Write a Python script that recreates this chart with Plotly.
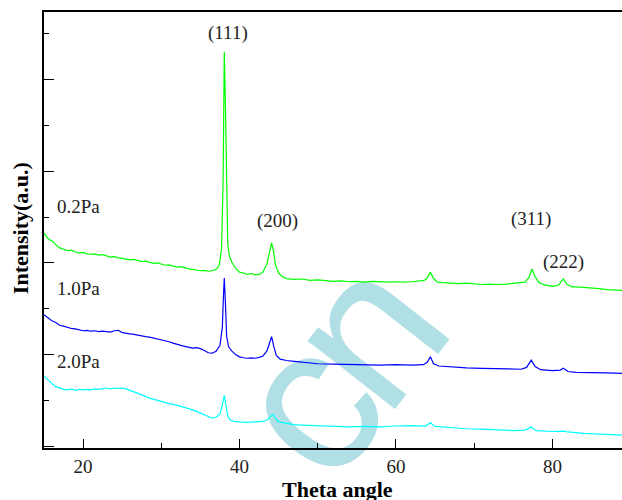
import base64
import plotly.graph_objects as go

# ---------------- data ----------------
x_02 = [15.0, 15.4, 15.8, 16.2, 16.6, 17.0, 17.5, 18.0, 18.5, 19.0, 19.5, 20.0, 20.5, 21.0, 21.5,
        22.0, 22.5, 23.0, 23.5, 24.0, 24.5, 25.0, 25.5, 26.0, 26.5, 27.0, 27.5, 28.0, 28.5, 29.0,
        29.5, 30.0, 30.5, 31.0, 31.5, 32.0, 32.5, 33.0, 33.5, 34.0, 34.5, 35.0, 35.5, 36.0, 36.5,
        37.0, 37.4, 37.7, 37.9, 38.05, 38.2, 38.35, 38.5, 38.7, 39.0, 39.5, 40.0, 40.5, 41.0, 41.5,
        42.0, 42.5, 43.0, 43.5, 43.9, 44.1, 44.35, 44.6, 45.0, 45.5, 46.0, 47.0, 48.0, 49.0, 50.0,
        51.0, 52.0, 53.0, 54.0, 55.0, 56.0, 57.0, 58.0, 59.0, 60.0, 61.0, 62.0, 63.0, 63.6, 64.0,
        64.4, 64.8, 65.3, 66.0, 67.0, 68.0, 69.0, 70.0, 71.0, 72.0, 73.0, 74.0, 75.0, 75.9, 76.5,
        77.0, 77.4, 77.8, 78.3, 79.0, 80.1, 80.8, 81.4, 81.9, 82.5, 83.1, 84.0, 85.0, 86.0, 87.0,
        88.0, 88.9]
y_02 = [4.66, 4.55, 4.50, 4.46, 4.38, 4.33, 4.30, 4.27, 4.28, 4.24, 4.22, 4.23, 4.20, 4.19, 4.20,
        4.17, 4.18, 4.15, 4.13, 4.14, 4.11, 4.10, 4.09, 4.07, 4.08, 4.05, 4.03, 4.04, 4.01, 3.99,
        4.00, 3.97, 3.95, 3.96, 3.93, 3.91, 3.92, 3.89, 3.87, 3.86, 3.84, 3.83, 3.84, 3.82, 3.83,
        3.86, 3.95, 4.30, 5.80, 8.61, 7.40, 5.20, 4.40, 4.15, 4.02, 3.88, 3.80, 3.78, 3.75, 3.77,
        3.74, 3.75, 3.80, 3.98, 4.30, 4.44, 4.25, 3.95, 3.78, 3.70, 3.66, 3.64, 3.65, 3.62, 3.63,
        3.61, 3.60, 3.61, 3.59, 3.60, 3.58, 3.60, 3.59, 3.58, 3.59, 3.58, 3.59, 3.60, 3.62, 3.67,
        3.80, 3.66, 3.58, 3.57, 3.56, 3.55, 3.56, 3.54, 3.53, 3.54, 3.53, 3.54, 3.55, 3.56, 3.58,
        3.68, 3.87, 3.70, 3.57, 3.52, 3.49, 3.52, 3.65, 3.53, 3.48, 3.48, 3.47, 3.45, 3.44, 3.42,
        3.41, 3.40]

x_10 = [15.0, 15.5, 16.0, 16.5, 17.0, 17.5, 18.0, 18.5, 19.0, 19.5, 20.0, 20.5, 21.0, 21.5, 22.0,
        22.5, 23.0, 23.5, 24.0, 24.5, 25.0, 25.5, 26.0, 26.5, 27.0, 27.5, 28.0, 28.5, 29.0, 29.5,
        30.0, 30.5, 31.0, 31.5, 32.0, 32.5, 33.0, 33.5, 34.0, 34.5, 35.0, 35.5, 36.0, 36.5, 37.0,
        37.5, 37.8, 37.95, 38.05, 38.2, 38.35, 38.6, 39.0, 39.5, 40.0, 40.5, 41.0, 41.5, 42.0, 42.5,
        43.0, 43.5, 43.9, 44.1, 44.35, 44.7, 45.2, 46.0, 47.0, 48.0, 50.0, 52.0, 54.0, 56.0, 58.0,
        60.0, 62.0, 63.5, 64.0, 64.4, 64.8, 65.5, 67.0, 69.0, 71.0, 73.0, 75.0, 76.0, 76.7, 77.3,
        77.8, 78.5, 80.0, 81.0, 81.4, 82.0, 83.0, 85.0, 87.0, 88.9]
y_10 = [2.87, 2.80, 2.74, 2.70, 2.64, 2.62, 2.59, 2.57, 2.56, 2.54, 2.52, 2.53, 2.51, 2.52, 2.50,
        2.51, 2.50, 2.49, 2.52, 2.53, 2.48, 2.46, 2.45, 2.44, 2.42, 2.41, 2.39, 2.38, 2.36, 2.34,
        2.33, 2.30, 2.28, 2.25, 2.22, 2.20, 2.18, 2.16, 2.14, 2.15, 2.13, 2.09, 2.04, 2.03, 2.07,
        2.20, 2.60, 3.30, 3.67, 3.10, 2.40, 2.17, 2.08, 2.00, 1.95, 1.93, 1.92, 1.93, 1.92, 1.94,
        1.97, 2.08, 2.32, 2.39, 2.20, 1.98, 1.90, 1.87, 1.85, 1.83, 1.80, 1.79, 1.78, 1.78, 1.77,
        1.78, 1.77, 1.78, 1.83, 1.95, 1.80, 1.75, 1.73, 1.71, 1.70, 1.69, 1.67, 1.68, 1.72, 1.88,
        1.74, 1.67, 1.65, 1.66, 1.70, 1.63, 1.61, 1.61, 1.60, 1.59]

x_20 = [15.0, 15.5, 16.0, 16.5, 17.0, 17.5, 18.0, 18.5, 19.0, 19.5, 20.0, 20.5, 21.0, 21.5, 22.0,
        22.5, 23.0, 23.5, 24.0, 24.5, 25.0, 25.5, 26.0, 26.5, 27.5, 28.5, 29.5, 30.0, 31.0, 32.0,
        32.5, 33.5, 34.5, 35.0, 35.5, 36.0, 36.5, 37.0, 37.5, 37.8, 38.05, 38.25, 38.5, 38.8, 39.3,
        40.0, 41.0, 42.0, 43.0, 43.6, 44.0, 44.3, 44.6, 45.0, 46.0, 47.0, 48.0, 50.0, 52.0, 54.0,
        56.0, 58.0, 60.0, 62.0, 63.8, 64.4, 65.0, 67.0, 69.0, 71.0, 73.0, 75.0, 76.5, 77.3, 77.9,
        79.0, 80.0, 81.4, 82.0, 84.0, 86.0, 88.9]
y_20 = [1.53, 1.44, 1.37, 1.30, 1.27, 1.24, 1.23, 1.25, 1.22, 1.24, 1.23, 1.24, 1.23, 1.25, 1.24,
        1.25, 1.27, 1.25, 1.27, 1.26, 1.27, 1.25, 1.22, 1.19, 1.12, 1.05, 1.00, 0.97, 0.93, 0.89,
        0.87, 0.82, 0.76, 0.72, 0.68, 0.64, 0.61, 0.63, 0.70, 0.90, 1.11, 0.90, 0.65, 0.57, 0.54,
        0.53, 0.52, 0.53, 0.54, 0.58, 0.66, 0.69, 0.60, 0.53, 0.50, 0.47, 0.46, 0.45, 0.43, 0.42,
        0.43, 0.42, 0.44, 0.45, 0.44, 0.51, 0.43, 0.40, 0.38, 0.37, 0.35, 0.34, 0.35, 0.42, 0.34,
        0.33, 0.32, 0.33, 0.31, 0.28, 0.27, 0.24]

series_names = ["0.2Pa", "1.0Pa", "2.0Pa"]
series_colors = ["#00ff00", "#0000ff", "#00ffff"]

peak_labels = ["(111)", "(200)", "(311)", "(222)"]
peak_label_x = [38.55, 44.8, 77.3, 81.4]
peak_label_y = [9.02, 4.91, 4.97, 4.02]

name_label_x = [16.45, 16.45, 16.45]
name_label_y = [5.23, 3.45, 1.85]

x_ticks = [20, 40, 60, 80]

# ---------------- figure ----------------
W, H = 622, 500
ml, mt, mb, mr = 43.6, 12, 51.5, 0
pw, ph = W - ml - mr, H - mt - mb
serif = "Liberation Serif"

fig = go.Figure()
for xs, ys, nm, col in zip([x_02, x_10, x_20], [y_02, y_10, y_20], series_names, series_colors):
    fig.add_trace(go.Scatter(x=xs, y=ys, mode="lines", name=nm,
                             line=dict(color=col, width=1.2), showlegend=False))

for t, xv, yv in zip(peak_labels, peak_label_x, peak_label_y):
    fig.add_annotation(x=xv, y=yv, xref="x", yref="y", text=t, showarrow=False,
                       xanchor="center", yanchor="middle",
                       font=dict(family=serif, size=19, color="#222"))
for t, xv, yv in zip(series_names, name_label_x, name_label_y):
    fig.add_annotation(x=xv, y=yv, xref="x", yref="y", text=t, showarrow=False,
                       xanchor="left", yanchor="middle", font=dict(family=serif, size=19, color="#222"))

# axis titles
fig.add_annotation(x=(20 - ml) / pw, y=(mt + ph - 228) / ph, xref="paper", yref="paper",
                   text="<b>Intensity(a.u.)</b>", textangle=-90, showarrow=False,
                   xanchor="center", yanchor="middle",
                   font=dict(family=serif, size=22, color="#000"))
fig.add_annotation(x=(337.5 - ml) / pw, y=(mt + ph - 490) / ph, xref="paper", yref="paper",
                   text="<b>Theta angle</b>", showarrow=False, xanchor="center", yanchor="middle",
                   font=dict(family=serif, size=22, color="#000"))

# watermark (drawn beneath the traces)
bx, by, ang = 331, 491, -52
svg = (f'<svg xmlns="http://www.w3.org/2000/svg" width="{W}" height="{H}" viewBox="0 0 {W} {H}">'
       f'<text x="{bx}" y="{by}" font-family="Liberation Sans" font-size="210" letter-spacing="-16" '
       f'fill="#b0e0e6" text-anchor="start" transform="rotate({ang} {bx} {by})">cn</text></svg>')
uri = "data:image/svg+xml;base64," + base64.b64encode(svg.encode()).decode()
fig.add_layout_image(source=uri, xref="paper", yref="paper", x=-ml / pw, y=1 + mt / ph,
                     sizex=W / pw, sizey=H / ph, xanchor="left", yanchor="top",
                     sizing="stretch", layer="below")

fig.update_layout(
    width=W, height=H, margin=dict(l=ml, r=mr, t=mt, b=mb, pad=0),
    paper_bgcolor="rgba(0,0,0,0)", plot_bgcolor="rgba(0,0,0,0)",
    xaxis=dict(range=[15, 88.9], tickvals=x_ticks, ticks="inside", ticklen=9, tickwidth=1.2,
               tickcolor="#000", showline=True, linecolor="#000", linewidth=1.5, mirror=True,
               showgrid=False, zeroline=False,
               minor=dict(dtick=10, tick0=0, ticks="inside", ticklen=5, tickwidth=1.2, tickcolor="#000"),
               tickfont=dict(family=serif, size=19, color="#222")),
    yaxis=dict(range=[-0.04, 9.48], dtick=2, tick0=0, ticks="inside", ticklen=10, tickwidth=1.2,
               tickcolor="#000", showline=True, linecolor="#000", linewidth=1.5,
               showgrid=False, zeroline=False, showticklabels=False,
               minor=dict(dtick=1, tick0=0, ticks="inside", ticklen=5, tickwidth=1.2, tickcolor="#000")),
)

fig.write_html("out.html")
